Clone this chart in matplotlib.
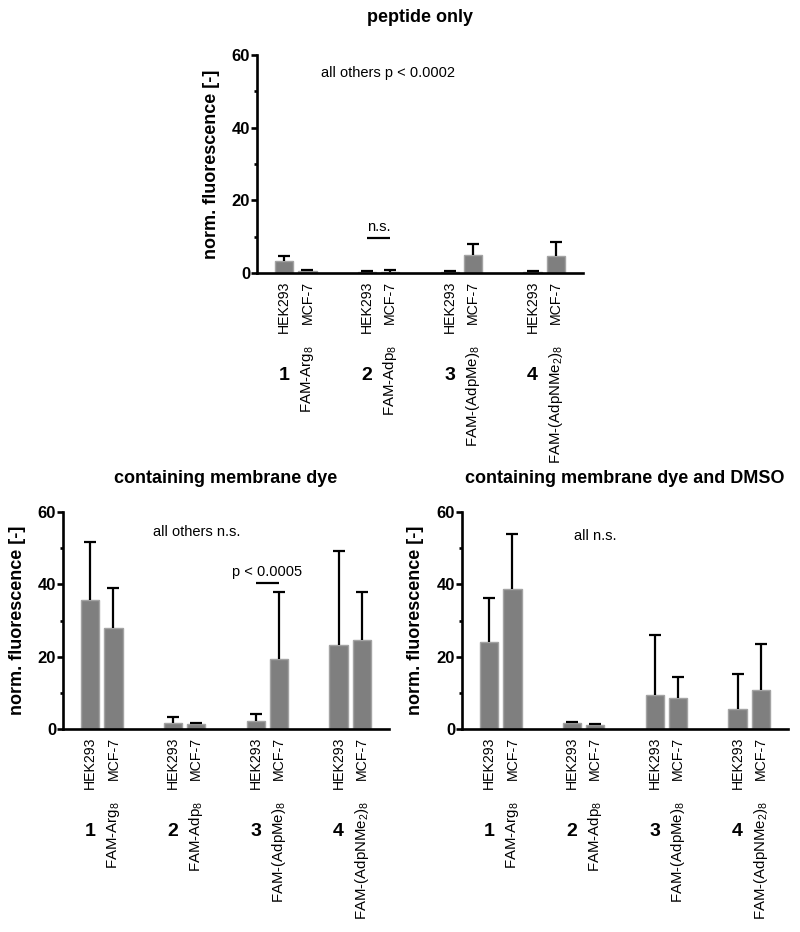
import numpy as np
import matplotlib
matplotlib.use("Agg")
import matplotlib.pyplot as plt

plt.rcParams['font.family'] = ['Liberation Sans', 'DejaVu Sans']
plt.rcParams['mathtext.fontset'] = 'custom'
plt.rcParams['mathtext.rm'] = 'Liberation Sans'
plt.rcParams['mathtext.it'] = 'Liberation Sans:italic'
plt.rcParams['mathtext.bf'] = 'Liberation Sans:bold'

# ---------------- data ----------------
cells = ["HEK293", "MCF-7"]
group_numbers = ["1", "2", "3", "4"]
peptides = ["FAM-Arg$_8$", "FAM-Adp$_8$", "FAM-(AdpMe)$_8$", "FAM-(AdpNMe$_2$)$_8$"]

titles = ["peptide only", "containing membrane dye", "containing membrane dye and DMSO"]

# peptide only
pep_hek = [3.2, 0.3, 0.2, 0.2]
pep_hek_err = [1.6, 0.2, 0.3, 0.4]
pep_mcf = [0.5, 0.4, 5.0, 4.6]
pep_mcf_err = [0.4, 0.5, 3.0, 4.0]

# containing membrane dye
dye_hek = [35.8, 1.75, 2.3, 23.2]
dye_hek_err = [15.8, 1.45, 1.8, 25.9]
dye_mcf = [28.0, 1.3, 19.3, 24.5]
dye_mcf_err = [11.1, 0.45, 18.5, 13.3]

# containing membrane dye and DMSO
dmso_hek = [24.1, 1.6, 9.4, 5.4]
dmso_hek_err = [12.1, 0.4, 16.5, 9.8]
dmso_mcf = [38.8, 1.0, 8.7, 10.9]
dmso_mcf_err = [15.2, 0.5, 5.7, 12.5]

notes = ["all others p < 0.0002", "all others n.s.", "all n.s."]
sig_labels = ["n.s.", "p < 0.0005", None]
sig_groups = [1, 2, None]
sig_heights = [9.6, 40.5, None]

# ---------------- plotting ----------------
fig = plt.figure(figsize=(8.0, 9.32), dpi=100)
W, H = 800, 932
ax_w = 326 / W
axes = [
    fig.add_axes([257 / W, (H - 273) / H, ax_w, 218 / H]),
    fig.add_axes([63 / W, (H - 729) / H, ax_w, 217 / H]),
    fig.add_axes([462 / W, (H - 729) / H, ax_w, 217 / H]),
]

datasets = [
    (pep_hek, pep_hek_err, pep_mcf, pep_mcf_err),
    (dye_hek, dye_hek_err, dye_mcf, dye_mcf_err),
    (dmso_hek, dmso_hek_err, dmso_mcf, dmso_mcf_err),
]
note_pos = [(1.11, 55.0), (1.15, 54.5), (1.14, 53.4)]
title_pad = [24, 21, 21]

bar_color = "#7f7f7f"
edge_color = "#a3a3a3"
off = 0.14
bw = 0.22
lw_axis = 1.9

for i, ax in enumerate(axes):
    hek, hek_e, mcf, mcf_e = [np.asarray(a, dtype=float) for a in datasets[i]]
    x = np.arange(len(group_numbers))
    for xs, vals, errs in [(x - off, hek, hek_e), (x + off, mcf, mcf_e)]:
        ax.bar(xs, vals, width=bw, color=bar_color, edgecolor=edge_color,
               linewidth=1.0, zorder=2)
        eb = ax.errorbar(xs, vals, yerr=[np.zeros_like(errs), errs], fmt='none',
                         ecolor='black', elinewidth=1.6, capsize=4.5,
                         capthick=1.6, zorder=3)
        for cl in eb[1]:
            if np.allclose(cl.get_ydata(), vals):
                cl.set_visible(False)

    ax.set_xlim(-0.47, 3.47)
    ax.set_ylim(0, 60)
    ax.set_yticks([0, 20, 40, 60])
    ax.set_yticks([10, 30, 50], minor=True)
    ax.set_xticks([])
    for s in ["top", "right"]:
        ax.spines[s].set_visible(False)
    for s in ["left", "bottom"]:
        ax.spines[s].set_linewidth(lw_axis)
    ax.tick_params(axis='y', which='major', length=4, width=lw_axis,
                   labelsize=12, pad=1)
    ax.tick_params(axis='y', which='minor', length=2.5, width=lw_axis)
    for lab in ax.get_yticklabels():
        lab.set_fontweight('bold')

    ax.set_ylabel("norm. fluorescence [-]", fontsize=13, fontweight='bold',
                  ha='center', va='center')
    ax.yaxis.set_label_coords(-46 / 326, 0.5)
    ax.set_title(titles[i], fontsize=13, fontweight='bold', pad=title_pad[i])

    # category labels below axis
    for g in range(len(group_numbers)):
        for c, dx in zip(cells, (-off, off)):
            ax.annotate(c, xy=(g + dx, 0), xycoords=('data', 'axes fraction'),
                        xytext=(0, -5.8), textcoords='offset points',
                        rotation=90, ha='center', va='top', fontsize=10.2)
        ax.annotate(group_numbers[g], xy=(g - off, 0),
                    xycoords=('data', 'axes fraction'),
                    xytext=(0, -73.5), textcoords='offset points',
                    ha='center', va='center', fontsize=14, fontweight='bold')
        ax.annotate(peptides[g], xy=(g + off, 0),
                    xycoords=('data', 'axes fraction'),
                    xytext=(0, -51.8), textcoords='offset points',
                    rotation=90, ha='center', va='top', fontsize=10.8)

    # notes
    ax.text(note_pos[i][0], note_pos[i][1], notes[i], ha='center', va='center',
            fontsize=10.5)
    if sig_groups[i] is not None:
        g = sig_groups[i]
        ax.plot([g - off, g + off], [sig_heights[i], sig_heights[i]],
                color='black', lw=1.6, solid_capstyle='butt', zorder=4)
        ax.text(g, sig_heights[i] + 1.0, sig_labels[i], ha='center',
                va='bottom', fontsize=10.5)

fig.savefig("out.png", dpi=100)
